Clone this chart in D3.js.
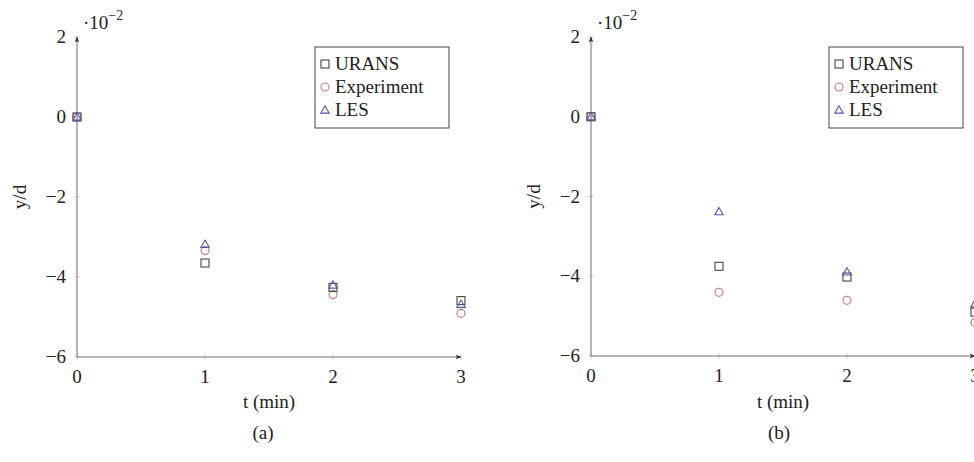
<!DOCTYPE html>
<html>
<head>
<meta charset="utf-8">
<script src="https://cdn.jsdelivr.net/npm/d3@7"></script>
<style>
  html, body { margin: 0; padding: 0; background: #fff; }
  svg { display: block; }
  text { font-family: "Liberation Serif", "Times New Roman", serif; fill: #222; }
</style>
</head>
<body>
<div id="chart"></div>
<script>
// ---- data (y/d in units of 1e-2) ----
const times = [0, 1, 2, 3];
const xTicks = [0, 1, 2, 3];
const yTicks = [-6, -4, -2, 0, 2];
const seriesNames = ["URANS", "Experiment", "LES"];
const seriesColors = ["#444444", "#c27584", "#5a55a8"];
const seriesShapes = ["square", "circle", "triangle"];

const uransA = [0, -3.65, -4.26, -4.59];
const experimentA = [0, -3.34, -4.44, -4.91];
const lesA = [0, -3.18, -4.20, -4.68];

const uransB = [0, -3.75, -4.02, -4.90];
const experimentB = [0, -4.40, -4.60, -5.16];
const lesB = [0, -2.38, -3.89, -4.69];

const panelLabels = ["(a)", "(b)"];

const W = 974, H = 462;
const svg = d3.select("#chart").append("svg").attr("width", W).attr("height", H);

svg.append("defs").append("marker")
  .attr("id", "arrow").attr("viewBox", "0 0 10 10")
  .attr("refX", 9).attr("refY", 5)
  .attr("markerWidth", 6).attr("markerHeight", 6)
  .attr("markerUnits", "userSpaceOnUse")
  .attr("orient", "auto")
  .append("path").attr("d", "M0,1 L10,5 L0,9 L2.5,5 Z").attr("fill", "#333");

const fmt = v => (v < 0 ? "\u2212" + Math.abs(v) : String(v));

function drawMarker(g, shape, cx, cy, color) {
  if (shape === "square") {
    g.append("rect").attr("x", cx - 4).attr("y", cy - 4).attr("width", 8).attr("height", 8)
      .attr("fill", "none").attr("stroke", color).attr("stroke-width", 1.1);
  } else if (shape === "circle") {
    g.append("circle").attr("cx", cx).attr("cy", cy).attr("r", 4)
      .attr("fill", "none").attr("stroke", color).attr("stroke-width", 1.1);
  } else {
    const s = 4.2;
    g.append("path")
      .attr("d", `M${cx},${cy - s} L${cx + s},${cy + s * 0.75} L${cx - s},${cy + s * 0.75} Z`)
      .attr("fill", "none").attr("stroke", color).attr("stroke-width", 1.1);
  }
}

function panel(opt) {
  const g = svg.append("g");
  const x = d3.scaleLinear().domain([0, 3]).range(opt.xRange);
  const y = d3.scaleLinear().domain([-6, 2]).range(opt.yRange);
  const axColor = "#6e6e6e";

  // ticks
  xTicks.forEach(t => {
    g.append("line").attr("x1", x(t)).attr("x2", x(t)).attr("y1", y(-6) - 3).attr("y2", y(-6) + 3)
      .attr("stroke", "#c8c8c8").attr("stroke-width", 0.8);
    g.append("text").attr("x", x(t)).attr("y", y(-6) + 26).attr("text-anchor", "middle")
      .attr("font-size", 19).text(fmt(t));
  });
  yTicks.forEach(t => {
    g.append("line").attr("x1", x(0) - 3).attr("x2", x(0) + 3).attr("y1", y(t)).attr("y2", y(t))
      .attr("stroke", "#c8c8c8").attr("stroke-width", 0.8);
    g.append("text").attr("x", x(0) - 11).attr("y", y(t) + 6).attr("text-anchor", "end")
      .attr("font-size", 19).text(fmt(t));
  });

  // axes with arrows
  g.append("line").attr("x1", x(0)).attr("y1", y(-6)).attr("x2", x(3)).attr("y2", y(-6))
    .attr("stroke", axColor).attr("stroke-width", 1).attr("marker-end", "url(#arrow)");
  g.append("line").attr("x1", x(0)).attr("y1", y(-6)).attr("x2", x(0)).attr("y2", y(2))
    .attr("stroke", axColor).attr("stroke-width", 1).attr("marker-end", "url(#arrow)");

  // scale factor label
  const sf = g.append("text").attr("x", x(0) + 6).attr("y", 29).attr("font-size", 19);
  sf.append("tspan").text("\u00b710");
  sf.append("tspan").attr("dy", -9).attr("font-size", 14).text("\u22122");

  // axis titles
  g.append("text").attr("x", (x(0) + x(3)) / 2 + opt.titleShift).attr("y", 408).attr("text-anchor", "middle")
    .attr("font-size", 19).text("t (min)");
  g.append("text").attr("transform", `translate(${opt.yTitleX},${y(-2)}) rotate(-90)`)
    .attr("text-anchor", "middle").attr("font-size", 19).text("y/d");
  g.append("text").attr("x", opt.labelX).attr("y", 439).attr("text-anchor", "middle")
    .attr("font-size", 19).text(opt.label);

  // data points (draw experiment, urans, les order so les on top)
  const order = [1, 0, 2];
  order.forEach(i => {
    opt.series[i].forEach((v, j) => drawMarker(g, seriesShapes[i], x(times[j]), y(v), seriesColors[i]));
  });

  // legend
  const lg = g.append("g");
  lg.append("rect").attr("x", opt.legend[0]).attr("y", 47).attr("width", 134).attr("height", 81)
    .attr("fill", "#fff").attr("stroke", "#444").attr("stroke-width", 1);
  seriesNames.forEach((n, i) => {
    const by = 70 + i * 23;
    drawMarker(lg, seriesShapes[i], opt.legend[0] + 10, by - 6, seriesColors[i]);
    lg.append("text").attr("x", opt.legend[0] + 20).attr("y", by).attr("font-size", 19).text(n);
  });
}

panel({
  xRange: [77, 461], yRange: [357, 37],
  series: [uransA, experimentA, lesA],
  legend: [315], titleShift: 0, yTitleX: 26, labelX: 263, label: panelLabels[0]
});
panel({
  xRange: [591, 975], yRange: [356, 37],
  series: [uransB, experimentB, lesB],
  legend: [829], titleShift: 0, yTitleX: 540, labelX: 779, label: panelLabels[1]
});
</script>
</body>
</html>
